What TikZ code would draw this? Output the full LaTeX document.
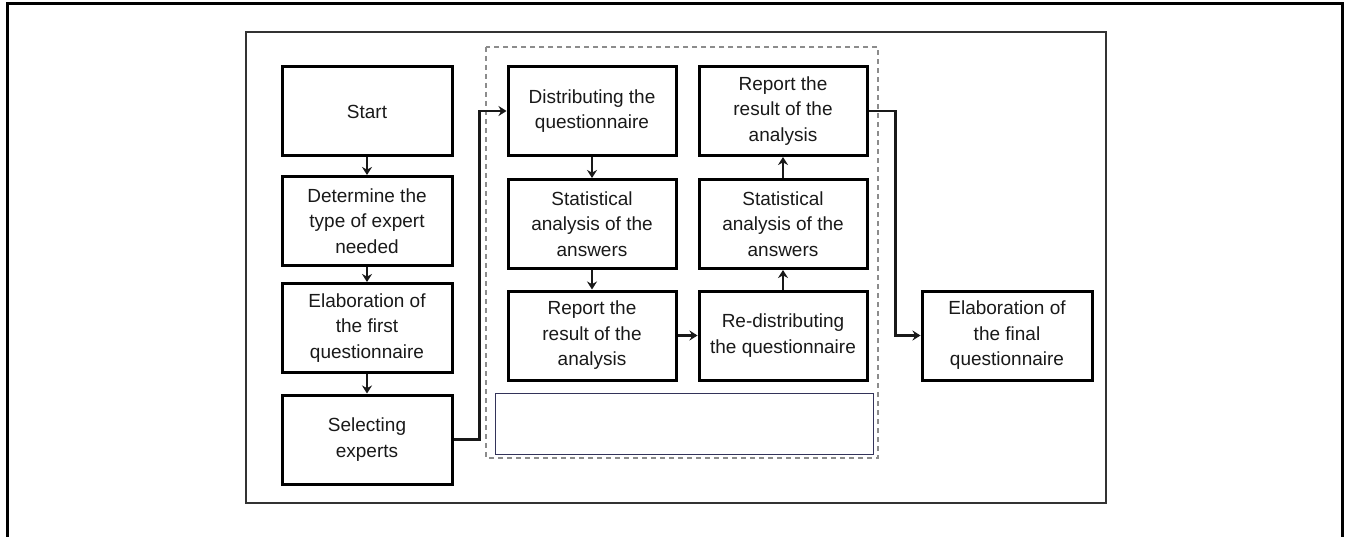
\documentclass[tikz,border=0pt]{standalone}
\usepackage{fontspec}
\setmainfont{Liberation Sans}
\usetikzlibrary{arrows.meta}
\begin{document}
\begin{tikzpicture}[x=1pt,y=-1pt,
  box/.style={draw=black, line width=3pt, align=center, inner sep=0pt,
    font=\fontsize{19}{25.5}\selectfont, text=black!90},
  lbox/.style={box, minimum width=170pt, minimum height=89pt},
  mbox/.style={box, minimum width=168pt, minimum height=89pt},
  conn/.style={draw=black!90, line width=2.4pt, -{Stealth[length=8pt,width=10pt]}},
  frame/.style={draw=black!80, line width=2pt},
  group/.style={draw=black!45, line width=2pt, dash pattern=on 5pt off 4pt},
  blank/.style={draw=black!75!blue!60!gray, line width=1pt}]
\useasboundingbox (0,0) rectangle (1346,537);
% outer and inner frames
\draw[line width=3pt] (7,537) -- (7,4) -- (1342,4) -- (1342,537);
\draw[frame] (246,32) rectangle (1106,503);
\draw[group] (486,47) rectangle (878,458);
\draw[blank] (495,393) rectangle (873,454);
% left column
\node[lbox] (start) at (367,111.5) {Start};
\node[lbox] (det) at (367,221) {Determine the\\type of expert\\needed};
\node[lbox] (elab) at (367,328) {Elaboration of\\the first\\questionnaire};
\node[lbox] (sel) at (367,439.5) {Selecting\\experts};
% middle block
\node[mbox] (dist) at (592,111) {Distributing the\\questionnaire};
\node[mbox] (stat1) at (592,224) {Statistical\\analysis of the\\answers};
\node[mbox] (rep1) at (592,335.5) {Report the\\result of the\\analysis};
\node[mbox] (redist) at (783,335.5) {Re-distributing\\the questionnaire};
\node[mbox] (stat2) at (783,224) {Statistical\\analysis of the\\answers};
\node[mbox] (rep2) at (783,111) {Report the\\result of the\\analysis};
% final
\node[mbox, minimum width=170pt] (final) at (1007,335.5) {Elaboration of\\the final\\questionnaire};
% connectors
\draw[conn] (start) -- (det);
\draw[conn] (det) -- (elab);
\draw[conn] (elab) -- (sel);
\draw[conn] (sel.east) -- ++(26,0) |- (dist.west);
\draw[conn] (dist) -- (stat1);
\draw[conn] (stat1) -- (rep1);
\draw[conn] (rep1) -- (redist);
\draw[conn] (redist) -- (stat2);
\draw[conn] (stat2) -- (rep2);
\draw[conn] (rep2.east) -- ++(27,0) |- (final.west);
\end{tikzpicture}
\end{document}
